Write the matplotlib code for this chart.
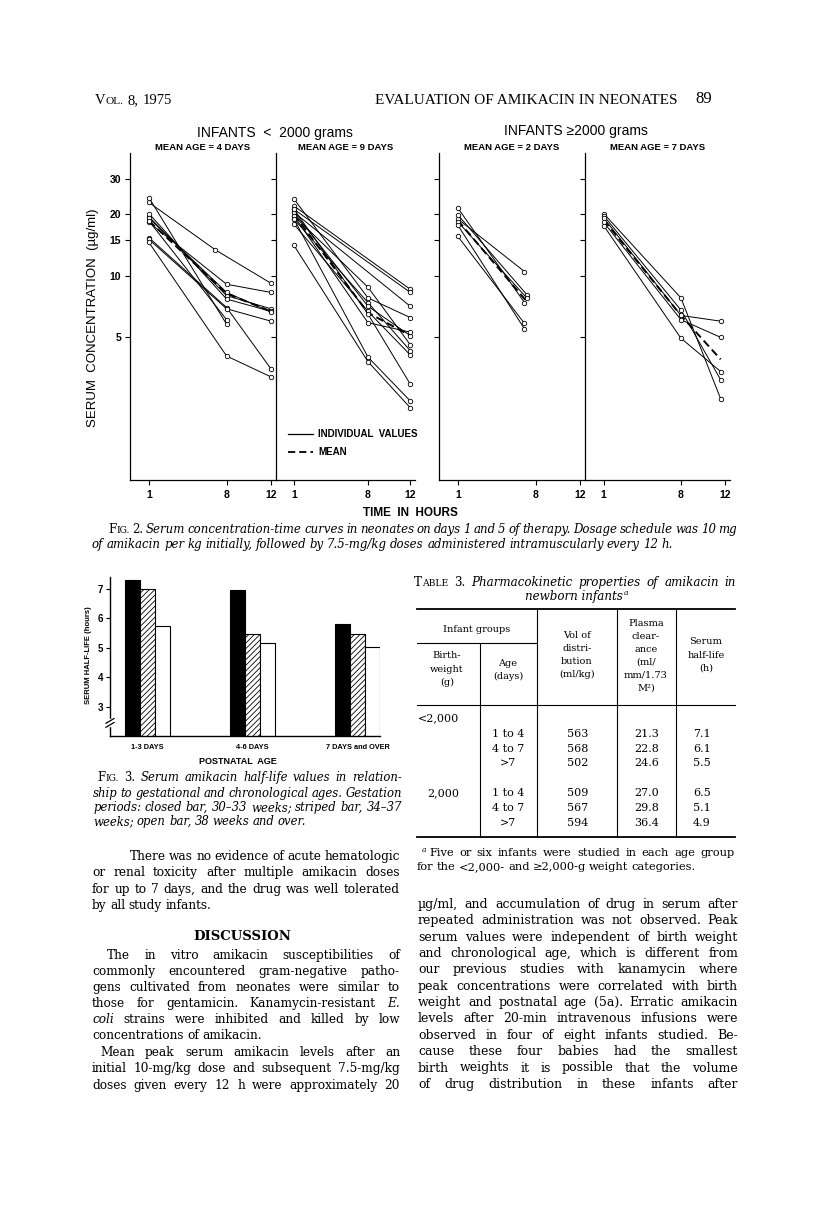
import matplotlib
matplotlib.use("Agg")
import matplotlib.pyplot as plt
import numpy as np
from matplotlib.patches import Rectangle

W, H = 816, 1220

# ---- Fig. 2 data: serum concentration (ug/ml) vs hours ----
time_ticks = [1, 8, 12]
conc_ticks = [5, 10, 15, 20, 30]

# infants < 2000 g, mean age 4 days
p1_hours = [[1, 7, 12], [1, 8, 12], [1, 8, 12], [1, 8, 12], [1, 8, 12],
            [1, 8], [1, 8], [1, 8, 12], [1, 8, 12], [1, 8, 12]]
p1_conc = [[22.9, 13.4, 9.2], [18.3, 9.1, 8.3], [19.5, 8.0, 6.9], [20.2, 7.7, 6.7],
           [19.2, 8.3, 6.65], [24.2, 5.8], [18.6, 6.1], [15.4, 7.0, 3.5],
           [15.1, 6.9, 6.0], [14.6, 4.05, 3.2]]
p1_mean_hours = [1, 8, 12]
p1_mean = [18.6, 8.2, 6.7]

# infants < 2000 g, mean age 9 days
p2_hours = [[1, 12], [1, 12], [1, 12], [1, 8, 12], [1, 8, 12], [1, 8, 12],
            [1, 8, 12], [1, 8, 12], [1, 8, 12], [1, 8, 12], [1, 8, 12], [1, 8, 12]]
p2_conc = [[22.0, 8.6], [21.2, 8.3], [20.5, 7.1], [23.8, 7.8, 6.25], [19.7, 8.8, 4.6],
           [19.0, 7.4, 4.3], [20.5, 7.1, 5.1], [17.9, 6.7, 4.1], [19.7, 5.9, 5.3],
           [21.2, 6.5, 2.95], [19.0, 4.0, 2.44], [14.1, 3.8, 2.26]]
p2_mean_hours = [1, 8, 12]
p2_mean = [20.0, 6.6, 5.1]

# infants >= 2000 g, mean age 2 days
p3_hours = [[1, 7], [1, 7], [1, 7.2], [1, 7.2], [1, 7], [1, 7]]
p3_conc = [[19.0, 10.5], [21.5, 7.4], [19.9, 8.1], [18.4, 7.8], [17.7, 5.5], [15.6, 5.85]]
p3_mean_hours = [1, 7.1]
p3_mean = [18.7, 7.6]

# infants >= 2000 g, mean age 7 days
p4_hours = [[1, 8, 11.6], [1, 8, 11.6], [1, 8, 11.6], [1, 8, 11.6], [1, 8, 11.6]]
p4_conc = [[20.2, 7.8, 2.5], [19.7, 6.8, 3.1], [19.2, 6.4, 6.0], [18.3, 6.1, 5.0],
           [17.6, 4.95, 3.4]]
p4_mean_hours = [1, 8, 11.6]
p4_mean = [18.8, 6.4, 3.9]

panel_titles = ["MEAN AGE = 4 DAYS", "MEAN AGE = 9 DAYS",
                "MEAN AGE = 2 DAYS", "MEAN AGE = 7 DAYS"]

# ---- Fig. 3 data: serum half-life (h) ----
age_groups = ["1-3 DAYS", "4-6 DAYS", "7 DAYS and OVER"]
hl_30_33wk = [7.3, 6.95, 5.82]
hl_34_37wk = [7.0, 5.45, 5.47]
hl_38wk = [5.75, 5.15, 5.02]
hl_ticks = [3, 4, 5, 6, 7]

# ---- Table 3 ----
tbl_weight = ["<2,000", "2,000"]
tbl_age = ["1 to 4", "4 to 7", ">7"]
tbl_vol = ["563", "568", "502", "509", "567", "594"]
tbl_clear = ["21.3", "22.8", "24.6", "27.0", "29.8", "36.4"]
tbl_half = ["7.1", "6.1", "5.5", "6.5", "5.1", "4.9"]

SERIF = "DejaVu Serif"
SANS = "Liberation Sans"
BODY = 9.0

fig = plt.figure(figsize=(W / 100, H / 100), dpi=100)
pg = fig.add_axes([0, 0, 1, 1])
pg.set_xlim(0, W)
pg.set_ylim(H, 0)
pg.axis("off")
renderer = fig.canvas.get_renderer()


def fig_axes(x0, y0, x1, y1):
    ax = fig.add_axes([x0 / W, 1 - y1 / H, (x1 - x0) / W, (y1 - y0) / H])
    ax.set_facecolor("none")
    return ax


def text_width(t):
    return t.get_window_extent(renderer).width


def make_words(line, x0, y, size, style, family, weight):
    # '%' small caps word, '*' italic word, '#' upright word
    groups = []
    for w in line.split(" "):
        if w.startswith("%"):
            parts = [(w[1], size, "normal"), (w[2:], size * 0.78, "normal")]
        elif w.startswith("*"):
            parts = [(w[1:], size, "italic")]
        elif w.startswith("#"):
            parts = [(w[1:], size, "normal")]
        else:
            parts = [(w, size, style)]
        objs = []
        for s, sz, st in parts:
            t = pg.text(x0, y, s, fontsize=sz, style=st, family=family,
                        weight=weight, va="baseline", ha="left")
            objs.append((t, text_width(t)))
        groups.append(objs)
    return groups


def fit_size(lines, size, style="normal", family=SERIF):
    # largest size (<= size) at which every justified line fits with normal gaps
    scale = 1.0
    for x0, x1, line, just in lines:
        if not just:
            continue
        groups = make_words(line, 0, 0, size, style, family, "normal")
        natural = sum(w for g in groups for _, w in g)
        natural += (len(groups) - 1) * size * 100 / 72 * 0.25
        for g in groups:
            for t, _ in g:
                t.remove()
        scale = min(scale, (x1 - x0) / natural)
    return size * scale


def put_line(x0, x1, y, line, size=BODY, style="normal", just=True,
             family=SERIF, weight="normal"):
    groups = make_words(line, x0, y, size, style, family, weight)
    widths = [sum(w for _, w in g) for g in groups]
    if just and len(groups) > 1:
        gap = (x1 - x0 - sum(widths)) / (len(groups) - 1)
    else:
        gap = size * 100 / 72 * 0.28
    x = x0
    for g in groups:
        for t, w in g:
            t.set_x(x)
            x += w
        x += gap


def put_block(lines, ys, size, style="normal", family=SERIF):
    size = fit_size(lines, size, style, family)
    for (x0, x1, line, just), y in zip(lines, ys):
        put_line(x0, x1, y, line, size=size, style=style, just=just, family=family)


# ---------------- page header ----------------
put_line(95, 0, 104, "%VOL. 8, 1975", size=10.5, family="Liberation Serif", just=False)
pg.text(526, 104, "EVALUATION OF AMIKACIN IN NEONATES", fontsize=11,
        family="Liberation Serif", ha="center", va="baseline")
pg.text(712, 103, "89", fontsize=12, family="Liberation Serif", ha="right", va="baseline")

# ---------------- Fig. 2 ----------------
panel_x = [(130, 276), (276, 415), (439, 585), (585, 730)]
panels = [(p1_hours, p1_conc, p1_mean_hours, p1_mean),
          (p2_hours, p2_conc, p2_mean_hours, p2_mean),
          (p3_hours, p3_conc, p3_mean_hours, p3_mean),
          (p4_hours, p4_conc, p4_mean_hours, p4_mean)]

for i, ((x0, x1), (hrs, conc, mh, mc)) in enumerate(zip(panel_x, panels)):
    ax = fig_axes(x0, 153, x1, 480)
    for h, c in zip(hrs, conc):
        ax.plot(h, c, color="black", lw=0.7, marker="o", ms=3.2,
                mfc="white", mec="black", mew=0.6, zorder=3)
    ax.plot(mh, mc, color="black", lw=1.4, ls=(0, (4, 2.2)), zorder=2)
    ax.set_yscale("log")
    ax.set_ylim(1, 40)
    ax.set_xlim(-0.7, 12.45)
    ax.minorticks_off()
    ax.set_yticks(conc_ticks)
    if i == 0:
        ax.set_yticklabels([str(v) for v in conc_ticks], fontsize=7.5,
                           family=SANS, weight="bold")
    else:
        ax.set_yticklabels([])
    ax.set_xticks(time_ticks)
    ax.set_xticklabels([str(v) for v in time_ticks], fontsize=7.5,
                       family=SANS, weight="bold")
    ax.tick_params(direction="out", length=3.5, width=0.8, pad=3)
    ax.tick_params(axis="x", pad=4)
    for s in ["top", "right"]:
        ax.spines[s].set_visible(False)
    for s in ["left", "bottom"]:
        ax.spines[s].set_linewidth(0.9)
    pg.text((x0 + x1) / 2, 148, panel_titles[i], fontsize=6.8, family=SANS,
            weight="bold", ha="center", va="center")

pg.text(275, 133, "INFANTS  <  2000 grams", fontsize=10, family=SANS,
        ha="center", va="center")
pg.text(576, 131, "INFANTS \u22652000 grams", fontsize=10, family=[SANS, "DejaVu Sans"],
        ha="center", va="center")
pg.text(93, 318, "SERUM  CONCENTRATION  (\u00b5g/ml)", fontsize=9.5, family=SANS,
        rotation=90, ha="center", va="center")
pg.text(410, 513, "TIME  IN  HOURS", fontsize=8.5, family=SANS, weight="bold",
        ha="center", va="center")

# legend
pg.plot([288, 313], [434, 434], color="black", lw=0.9)
pg.plot([288, 313], [452, 452], color="black", lw=1.3, ls=(0, (4, 2.2)))
pg.text(318, 434, "INDIVIDUAL  VALUES", fontsize=7, family=SANS, weight="bold",
        va="center")
pg.text(318, 452, "MEAN", fontsize=7, family=SANS, weight="bold", va="center")

# Fig. 2 caption
put_block([(108, 737, "%FIG. #2. Serum concentration-time curves in neonates on days 1 "
            "and 5 of therapy. Dosage schedule was 10 mg", True),
           (92, 737, "of amikacin per kg initially, followed by 7.5-mg/kg doses "
            "administered intramuscularly every 12 h.", False)],
          [533, 548], 8.6, style="italic")

# ---------------- Fig. 3 ----------------
axb = fig_axes(110, 577, 380, 736)
xs = np.arange(len(age_groups)) * 7.0
axb.bar(xs - 1, hl_30_33wk, width=1, color="black", edgecolor="black", lw=0.8)
plt.rcParams["hatch.linewidth"] = 0.6
axb.bar(xs, hl_34_37wk, width=1, color="white", edgecolor="black", lw=0.8,
        hatch="//////")
axb.bar(xs + 1, hl_38wk, width=1, color="white", edgecolor="black", lw=0.8)
axb.set_ylim(2, 7.4)
axb.set_xlim(-2.5, 15.5)
axb.set_yticks(hl_ticks)
axb.set_yticklabels([str(v) for v in hl_ticks], fontsize=7, family=SANS, weight="bold")
axb.set_xticks(xs)
axb.set_xticklabels(age_groups, fontsize=5.3, family=SANS, weight="bold")
axb.tick_params(axis="y", direction="out", length=3, width=0.8, pad=2)
axb.tick_params(axis="x", length=0, pad=6)
for s in ["top", "right"]:
    axb.spines[s].set_visible(False)
for s in ["left", "bottom"]:
    axb.spines[s].set_linewidth(1.0)
# axis break
axb.add_patch(Rectangle((-0.02, 0.06), 0.04, 0.045, transform=axb.transAxes,
                        color="white", clip_on=False, zorder=5))
for dy in (0.0, 0.025):
    axb.plot([-0.015, 0.015], [0.055 + dy, 0.085 + dy], transform=axb.transAxes,
             color="black", lw=0.9, clip_on=False, zorder=6)
pg.text(238, 761, "POSTNATAL  AGE", fontsize=6.5, family=SANS, weight="bold",
        ha="center", va="center")
pg.text(88, 655, "SERUM HALF-LIFE (hours)", fontsize=5.5, family=SANS, weight="bold",
        rotation=90, ha="center", va="center")

# Fig. 3 caption
put_block([(97, 402, "%FIG. #3. Serum amikacin half-life values in relation-", True),
           (93, 402, "ship to gestational and chronological ages. Gestation", True),
           (93, 402, "periods: closed bar, 30\u201333 weeks; striped bar, 34\u201337", True),
           (93, 402, "weeks; open bar, 38 weeks and over.", False)],
          [781, 797, 811, 825], 8.8, style="italic")

# ---------------- left column text ----------------
left_lines = [
    (130, 400, "There was no evidence of acute hematologic", True),
    (92, 400, "or renal toxicity after multiple amikacin doses", True),
    (92, 400, "for up to 7 days, and the drug was well tolerated", True),
    (92, 400, "by all study infants.", False),
    (107, 400, "The in vitro amikacin susceptibilities of", True),
    (92, 400, "commonly encountered gram-negative patho-", True),
    (92, 400, "gens cultivated from neonates were similar to", True),
    (92, 400, "those for gentamicin. Kanamycin-resistant *E.", True),
    (92, 400, "*coli strains were inhibited and killed by low", True),
    (92, 400, "concentrations of amikacin.", False),
    (100, 400, "Mean peak serum amikacin levels after an", True),
    (92, 400, "initial 10-mg/kg dose and subsequent 7.5-mg/kg", True),
    (92, 400, "doses given every 12 h were approximately 20", True),
]
left_y = [860, 876, 893, 909, 959, 975, 991, 1007, 1023, 1039, 1056, 1072, 1089]
put_block(left_lines, left_y, BODY)
pg.text(242, 940, "DISCUSSION", fontsize=9.5, family=SERIF, weight="bold",
        ha="center", va="baseline")

# ---------------- right column text ----------------
right_lines = [
    "\u00b5g/ml, and accumulation of drug in serum after",
    "repeated administration was not observed. Peak",
    "serum values were independent of birth weight",
    "and chronological age, which is different from",
    "our previous studies with kanamycin where",
    "peak concentrations were correlated with birth",
    "weight and postnatal age (5a). Erratic amikacin",
    "levels after 20-min intravenous infusions were",
    "observed in four of eight infants studied. Be-",
    "cause these four babies had the smallest",
    "birth weights it is possible that the volume",
    "of drug distribution in these infants after",
]
put_block([(418, 738, s, True) for s in right_lines],
          [908 + k * 16.35 for k in range(len(right_lines))], BODY)

# ---------------- Table 3 ----------------
put_line(414, 736, 586, "%TABLE #3. Pharmacokinetic properties of amikacin in",
         size=8.6, style="italic")
t_sub = pg.text(574, 600, "newborn infants", fontsize=8.6, family=SERIF, style="italic",
                ha="center", va="baseline")
sub_w = text_width(t_sub)
pg.text(574 + sub_w / 2 + 1, 595, "a", fontsize=5.5, family=SERIF, style="italic",
        va="baseline")

lw_thick, lw_thin = 1.3, 0.8
pg.plot([417, 735], [609, 609], color="black", lw=lw_thick)
pg.plot([417, 537], [643, 643], color="black", lw=lw_thin)
pg.plot([417, 735], [705, 705], color="black", lw=lw_thin)
pg.plot([417, 735], [837, 837], color="black", lw=lw_thick)
pg.plot([480, 480], [643, 837], color="black", lw=lw_thin)
for xv in (537, 617, 676):
    pg.plot([xv, xv], [609, 837], color="black", lw=lw_thin)

hs = 7.0
pg.text(477, 630, "Infant groups", fontsize=hs, family=SERIF, ha="center", va="center")
for k, s in enumerate(["Birth-", "weight", "(g)"]):
    pg.text(447, 656 + k * 13.2, s, fontsize=hs, family=SERIF, ha="center", va="center")
for k, s in enumerate(["Age", "(days)"]):
    pg.text(508, 663 + k * 13.2, s, fontsize=hs, family=SERIF, ha="center", va="center")
for k, s in enumerate(["Vol of", "distri-", "bution", "(ml/kg)"]):
    pg.text(577, 635 + k * 13.2, s, fontsize=hs, family=SERIF, ha="center", va="center")
for k, s in enumerate(["Plasma", "clear-", "ance", "(ml/", "mm/1.73", "M\u00b2)"]):
    pg.text(646, 623 + k * 13.1, s, fontsize=hs, family=SERIF, ha="center", va="center")
for k, s in enumerate(["Serum", "half-life", "(h)"]):
    pg.text(706, 642 + k * 13.2, s, fontsize=hs, family=SERIF, ha="center", va="center")

ds = 8.0
pg.text(418, 718, tbl_weight[0], fontsize=ds, family=SERIF, va="center")
pg.text(443, 793, tbl_weight[1], fontsize=ds, family=SERIF, ha="center", va="center")
row_y = [734, 748.5, 763, 793, 808, 822.5]
for k, y in enumerate(row_y):
    pg.text(508, y, tbl_age[k % 3], fontsize=ds, family=SERIF, ha="center", va="center")
    pg.text(578, y, tbl_vol[k], fontsize=ds, family=SERIF, ha="center", va="center")
    pg.text(647, y, tbl_clear[k], fontsize=ds, family=SERIF, ha="center", va="center")
    pg.text(702, y, tbl_half[k], fontsize=ds, family=SERIF, ha="center", va="center")

# footnote
pg.text(422, 852, "a", fontsize=5.5, family=SERIF, style="italic", va="baseline")
put_block([(429, 735, "Five or six infants were studied in each age group", True),
           (417, 735, "for the <2,000- and \u22652,000-g weight categories.", False)],
          [856, 870], 8.2)

fig.savefig("out.png", dpi=100, facecolor="white")
